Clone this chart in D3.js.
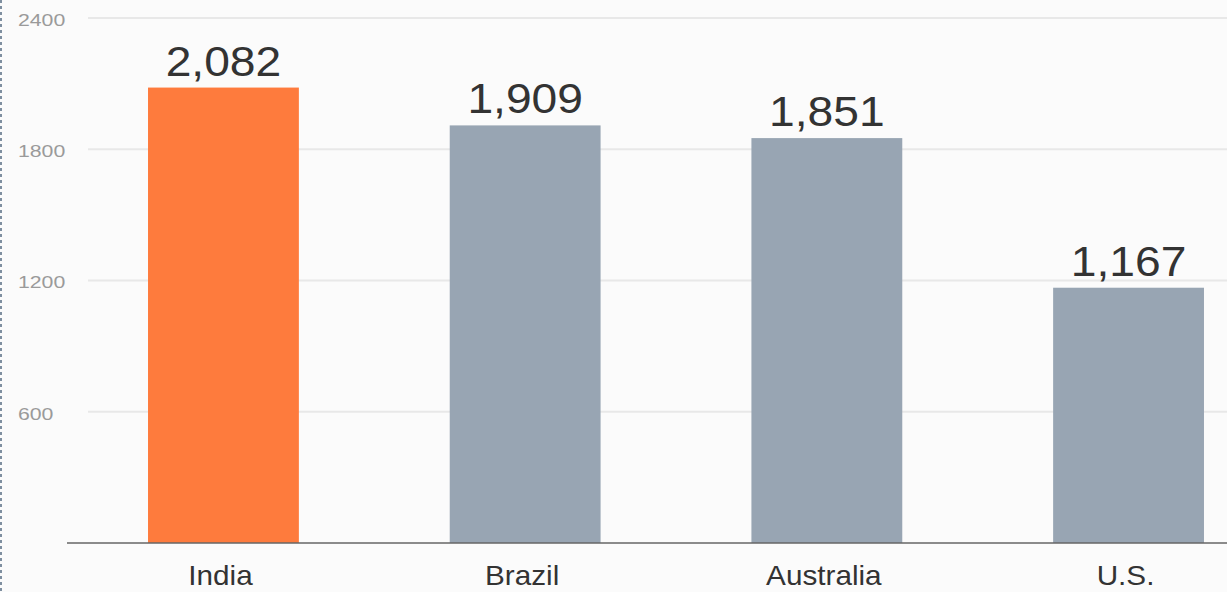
<!DOCTYPE html>
<html>
<head>
<meta charset="utf-8">
<script src="https://cdn.jsdelivr.net/npm/d3@7"></script>
<style>
  html, body { margin: 0; padding: 0; background: #fbfbfb; }
  svg { display: block; }
  text { font-family: "Liberation Sans", "Helvetica Neue", Arial, sans-serif; }
</style>
</head>
<body>
<svg id="chart" width="1227" height="592"></svg>
<script>
// Bar chart data
const categories = ["India", "Brazil", "Australia", "U.S."];
const values = [2082, 1909, 1851, 1167];
const highlighted = ["India"];
const yTicks = [600, 1200, 1800, 2400];

const W = 1227, H = 592;
const svg = d3.select("#chart");

svg.append("rect").attr("width", W).attr("height", H).attr("fill", "#fbfbfb");

const y = d3.scaleLinear().domain([0, 2400]).range([543, 18]);
const x = d3.scaleBand()
  .domain(categories)
  .range([72.6, 1279.4])
  .paddingInner(0.5)
  .paddingOuter(0.25);

// gridlines
svg.append("g").selectAll("line")
  .data(yTicks)
  .join("line")
  .attr("x1", 88).attr("x2", W)
  .attr("y1", d => y(d)).attr("y2", d => y(d))
  .attr("stroke", "#e8e8e8")
  .attr("stroke-width", 2);

// y tick labels
svg.append("g").selectAll("text")
  .data(yTicks)
  .join("text")
  .attr("x", 18)
  .attr("y", d => y(d) + 8)
  .attr("font-size", 17)
  .attr("fill", "#9a9a9a")
  .attr("transform", "translate(18,0) scale(1.25,1) translate(-18,0)")
  .text(d => d);

// bars
svg.append("g").selectAll("rect")
  .data(categories)
  .join("rect")
  .attr("x", d => x(d))
  .attr("width", x.bandwidth())
  .attr("y", (d, i) => y(values[i]))
  .attr("height", (d, i) => y(0) - y(values[i]))
  .attr("fill", d => highlighted.includes(d) ? "#fe7b3d" : "#98a5b3");

// baseline
svg.append("line")
  .attr("x1", 67).attr("x2", W)
  .attr("y1", y(0)).attr("y2", y(0))
  .attr("stroke", "#666")
  .attr("stroke-width", 1.5);

// value labels
const fmt = d3.format(",");
svg.append("g").selectAll("text")
  .data(categories)
  .join("text")
  .attr("text-anchor", "middle")
  .attr("font-size", 42)
  .attr("fill", "#333")
  .attr("transform", (d, i) => {
    const cx = x(d) + x.bandwidth() / 2;
    return `translate(${cx},${y(values[i]) - 12}) scale(1.1,1)`;
  })
  .text((d, i) => fmt(values[i]));

// category labels
svg.append("g").selectAll("text")
  .data(categories)
  .join("text")
  .attr("text-anchor", "middle")
  .attr("font-size", 27)
  .attr("fill", "#333")
  .attr("transform", d => `translate(${x(d) + x.bandwidth() / 2 - 3},585) scale(1.1,1)`)
  .text(d => d);

// dashed frame edge on the left
svg.append("line")
  .attr("x1", 1).attr("x2", 1)
  .attr("y1", 0).attr("y2", H)
  .attr("stroke", "#7f8fa0")
  .attr("stroke-width", 2)
  .attr("stroke-dasharray", "3,3");
</script>
</body>
</html>
